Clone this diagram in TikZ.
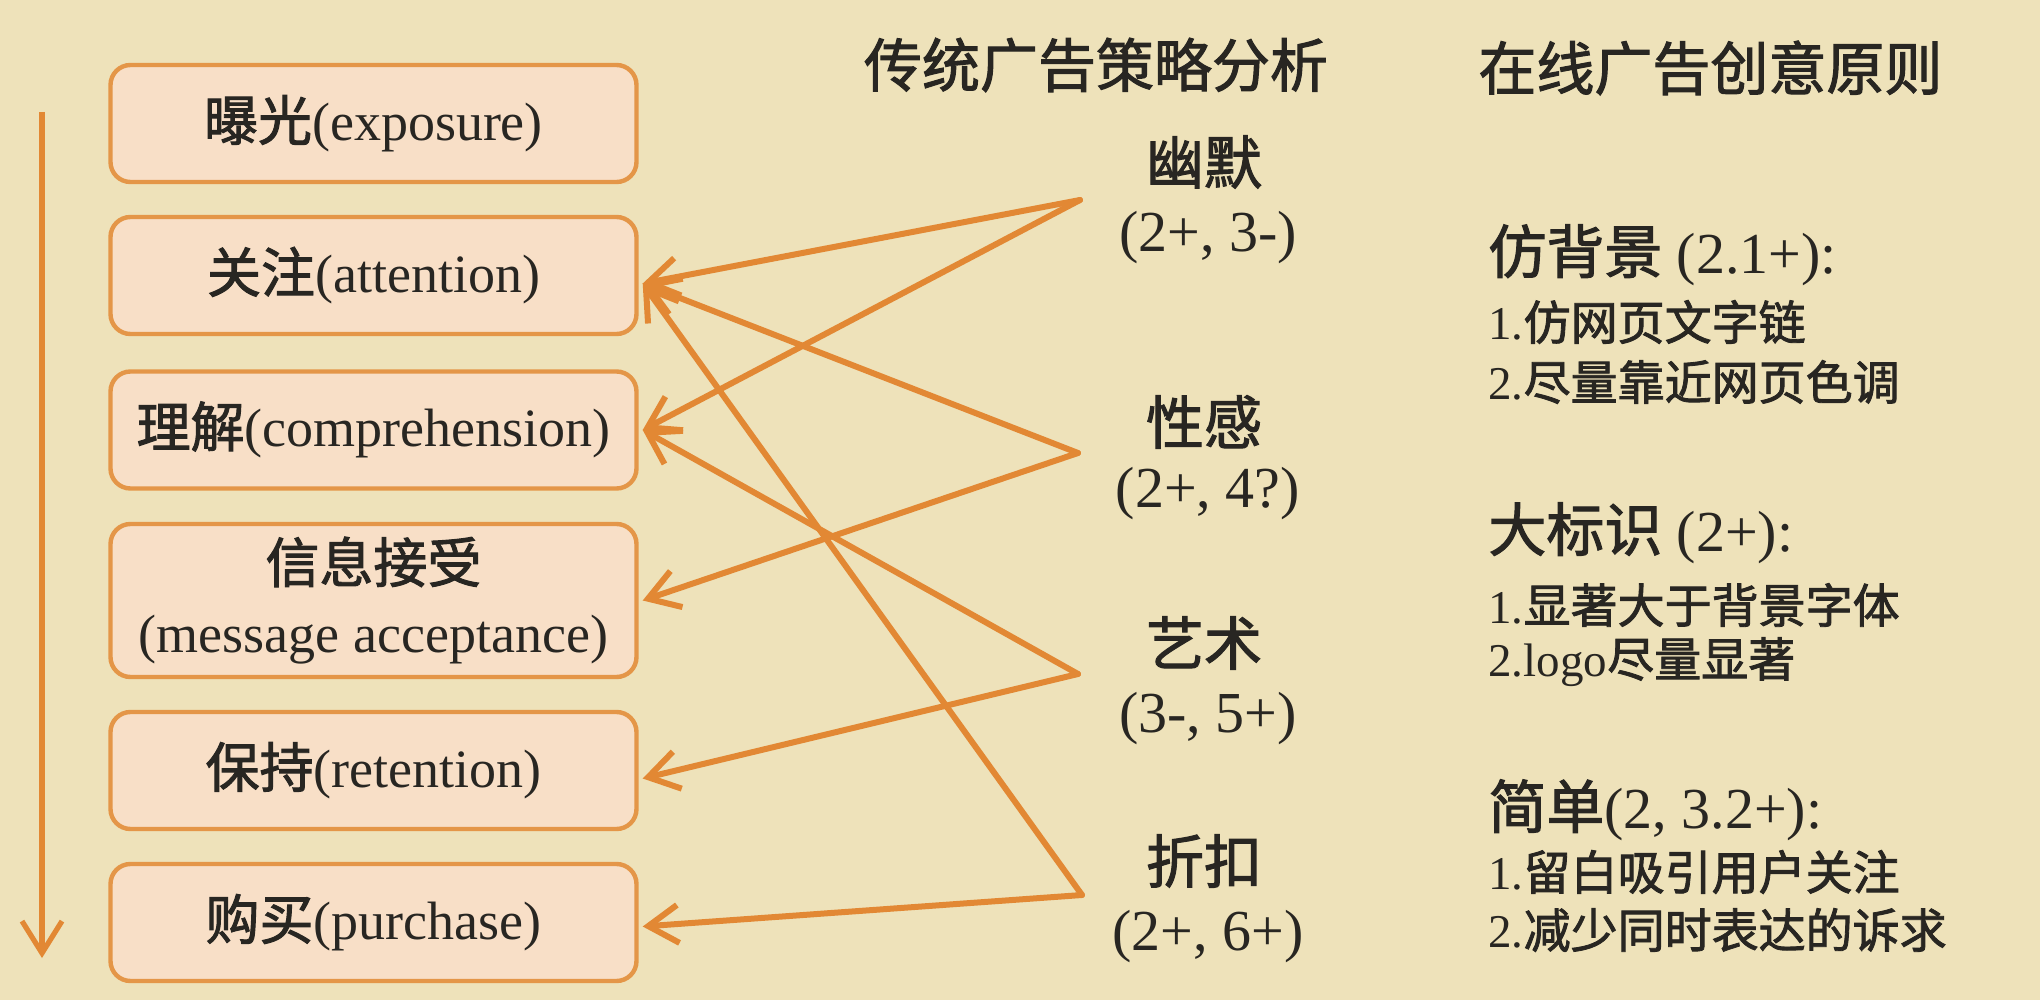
\documentclass[tikz,border=0pt]{standalone}
\usepackage{fontspec}
\setmainfont{Liberation Serif}
\newfontfamily\cjk[FakeBold=1.8]{Noto Sans CJK SC}
\usetikzlibrary{arrows.meta}
\definecolor{bgc}{RGB}{238,226,186}
\definecolor{boxfill}{RGB}{248,223,199}
\definecolor{boxline}{RGB}{228,150,72}
\definecolor{arrowc}{RGB}{226,136,52}
\definecolor{txt}{RGB}{40,38,34}
\tikzset{
  stagebox/.style={draw=boxline, fill=boxfill, line width=2.2pt, rounded corners=10pt,
    minimum width=263pt, minimum height=58.5pt, align=center, text=txt,
    font=\fontsize{27}{35}\selectfont, inner sep=0pt},
  conn/.style={draw=arrowc, line width=3pt, line cap=round,
    -{Straight Barb[length=15pt,width=19pt,line width=3pt]}},
  flow/.style={draw=arrowc, line width=2.6pt,
    -{Straight Barb[length=16pt,width=20pt,line width=2.6pt]}},
  header/.style={text=txt, font=\cjk\fontsize{29}{34}\selectfont, inner sep=0pt},
  strat/.style={text=txt, font=\fontsize{29}{34}\selectfont, inner sep=0pt, align=center},
  ruletitle/.style={text=txt, font=\fontsize{29}{34}\selectfont, inner sep=0pt, anchor=west},
  ruleitem/.style={text=txt, font=\fontsize{23.5}{28}\selectfont, inner sep=0pt, anchor=west}
}
\begin{document}
\begin{tikzpicture}[x=0.5pt,y=-0.5pt]
\fill[bgc] (0,0) rectangle (2040,1000);
\useasboundingbox (0,0) rectangle (2040,1000);

% stage boxes
\node[stagebox] (b1) at (373.5,123.5) {{\cjk 曝光}(exposure)};
\node[stagebox] (b2) at (373.5,275.5) {{\cjk 关注}(attention)};
\node[stagebox] (b3) at (373.5,430) {{\cjk 理解}(comprehension)};
\node[stagebox, minimum height=76.5pt] (b4) at (373.5,600.5) {{\cjk 信息接受}\\(message acceptance)};
\node[stagebox] (b5) at (373.5,770.5) {{\cjk 保持}(retention)};
\node[stagebox] (b6) at (373.5,922.5) {{\cjk 购买}(purchase)};

% left flow arrow
\coordinate (ftop) at (42,112);
\coordinate (fbot) at (42,958);
\draw[flow] (ftop) -- (fbot);

% headers
\node[header] (h1) at (1096,65) {传统广告策略分析};
\node[header, anchor=west] (h2) at (1478,68) {在线广告创意原则};

% strategies
\node[strat] (s1) at (1204,162) {{\cjk 幽默}};
\node[strat] (s1v) at (1208,238) {(2+, 3-)};
\node[strat] (s2) at (1204,422) {{\cjk 性感}};
\node[strat] (s2v) at (1208,494) {(2+, 4?)};
\node[strat] (s3) at (1204,643) {{\cjk 艺术}};
\node[strat] (s3v) at (1208,719) {(3-, 5+)};
\node[strat] (s4) at (1204,861) {{\cjk 折扣}};
\node[strat] (s4v) at (1208,937) {(2+, 6+)};

% apex points
\coordinate (a1) at (1080,200);
\coordinate (a2) at (1078,453);
\coordinate (a3) at (1078,674);
\coordinate (a4) at (1082,895);

% connectors
\draw[conn] (a1) -- ([xshift=2pt,yshift=-4pt]b2.east);
\draw[conn] (a1) -- ([xshift=2pt]b3.east);
\draw[conn] (a2) -- ([xshift=2pt,yshift=-4pt]b2.east);
\draw[conn] (a2) -- ([xshift=2pt]b4.east);
\draw[conn] (a3) -- ([xshift=2pt]b3.east);
\draw[conn] (a3) -- ([xshift=2pt,yshift=-4pt]b5.east);
\draw[conn] (a4) -- ([xshift=2pt,yshift=-4pt]b2.east);
\draw[conn] (a4) -- ([xshift=2pt,yshift=-2pt]b6.east);

% principles
\node[ruletitle] (r1) at (1488,255) {{\cjk 仿背景} (2.1+):};
\node[ruleitem] (r1a) at (1488,322) {1.{\cjk 仿网页文字链}};
\node[ruleitem] (r1b) at (1488,382) {2.{\cjk 尽量靠近网页色调}};
\node[ruletitle] (r2) at (1488,533) {{\cjk 大标识} (2+):};
\node[ruleitem] (r2a) at (1488,605) {1.{\cjk 显著大于背景字体}};
\node[ruleitem] (r2b) at (1488,662) {2.logo{\cjk 尽量显著}};
\node[ruletitle] (r3) at (1488,810) {{\cjk 简单}(2, 3.2+):};
\node[ruleitem] (r3a) at (1488,872) {1.{\cjk 留白吸引用户关注}};
\node[ruleitem] (r3b) at (1488,930) {2.{\cjk 减少同时表达的诉求}};
\end{tikzpicture}
\end{document}
